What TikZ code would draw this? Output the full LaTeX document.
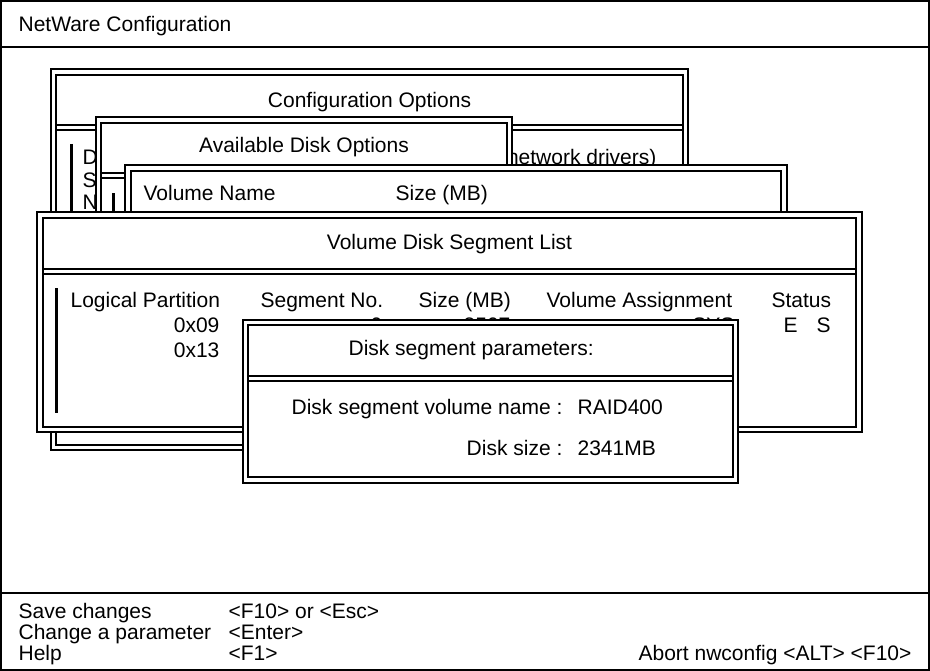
\documentclass[tikz,border=0pt]{standalone}
\usepackage{fontspec}
\setmainfont{Liberation Sans}
\newcommand\scrfont{\fontsize{21bp}{25bp}\selectfont}
\begin{document}
\begin{tikzpicture}[x=1bp,y=-1bp,line width=1.2bp,
  txt/.style={inner sep=0pt,font=\scrfont,anchor=base west},
  txtr/.style={inner sep=0pt,font=\scrfont,anchor=base east},
  txtc/.style={inner sep=0pt,font=\scrfont,anchor=base},
  sep/.style={line width=2bp},
  bar/.style={line width=3bp}]
\useasboundingbox (0,0) rectangle (930,671);
% double-framed window: outer x1 y1 x2 y2, inner x1 y1 x2 y2
\newcommand\dblwin[8]{%
  \fill[white] (#1,#2) rectangle (#3,#4);
  \draw (#1,#2) rectangle (#3,#4);
  \draw (#5,#6) rectangle (#7,#8);}
\newcommand\hdiv[4]{\draw (#1,#3) -- (#2,#3); \draw (#1,#4) -- (#2,#4);}
% screen frame
\draw (1,1) rectangle (929,670);
\draw[sep] (1,47) -- (929,47);
\draw[sep] (1,593) -- (929,593);
\node[txt] (title) at (18,31.5) {NetWare Configuration};
% Configuration Options
\dblwin{51}{69}{688}{450}{56}{75}{683}{445}
\hdiv{56}{683}{125}{130}
\node[txtc] (cfgt) at (369.5,107.5) {Configuration Options};
\draw[bar] (71,144) -- (71,230);
\node[txt] (cfg1) at (82,164.5) {D};
\node[txtr] (cfg1b) at (657,164.5) {network drivers)};
\node[txt] (cfg2) at (82,187) {S};
\node[txt] (cfg3) at (82,209.5) {N};
% Available Disk Options
\dblwin{96}{117}{512}{400}{101}{123}{507}{395}
\hdiv{101}{507}{173}{178}
\node[txtc] (avt) at (304,152.5) {Available Disk Options};
\draw[bar] (113,193) -- (113,260);
% Volume Name list
\dblwin{125}{165}{787}{400}{131}{171}{781}{395}
\node[txt] (vn) at (143,200.5) {Volume Name};
\node[txt] (vs) at (395,200.5) {Size (MB)};
% Volume Disk Segment List
\dblwin{37}{212}{862}{432}{43}{218}{856}{427}
\hdiv{43}{856}{269}{274}
\node[txtc] (vdt) at (449.5,249.5) {Volume Disk Segment List};
\draw[bar] (56,288) -- (56,413);
\node[txt] (h1) at (70,307.5) {Logical Partition};
\node[txt] (h2) at (260,307.5) {Segment No.};
\node[txt] (h3) at (418,307.5) {Size (MB)};
\node[txt] (h4) at (546,307.5) {Volume Assignment};
\node[txt] (h5) at (771,307.5) {Status};
\node[txtr] (r1a) at (220,332.5) {0x09};
\node[txtr] (r1b) at (383,332.5) {0};
\node[txtr] (r1c) at (511,332.5) {8507};
\node[txtr] (r1d) at (735,332.5) {SYS};
\node[txt] (r1e) at (783,332.5) {E};
\node[txt] (r1f) at (816,332.5) {S};
\node[txtr] (r2a) at (220,357.5) {0x13};
% Disk segment parameters
\dblwin{243}{320}{738}{483}{248}{325}{733}{477}
\hdiv{248}{733}{376}{381}
\node[txt] (pt) at (348,355) {Disk segment parameters:};
\node[txtr] (p1l) at (563,414.5) {Disk segment volume name :};
\node[txt] (p1v) at (577,414.5) {RAID400};
\node[txtr] (p2l) at (563,455.5) {Disk size :};
\node[txt] (p2v) at (577,455.5) {2341MB};
% footer
\node[txt] (f1) at (18,618.5) {Save changes};
\node[txt] (f1k) at (228,618.5) {<F10> or <Esc>};
\node[txt] (f2) at (18,639.5) {Change a parameter};
\node[txt] (f2k) at (228,639.5) {<Enter>};
\node[txt] (f3) at (18,660.5) {Help};
\node[txt] (f3k) at (228,660.5) {<F1>};
\node[txtr] (f4) at (912,660.5) {Abort nwconfig <ALT> <F10>};
\end{tikzpicture}
\end{document}
